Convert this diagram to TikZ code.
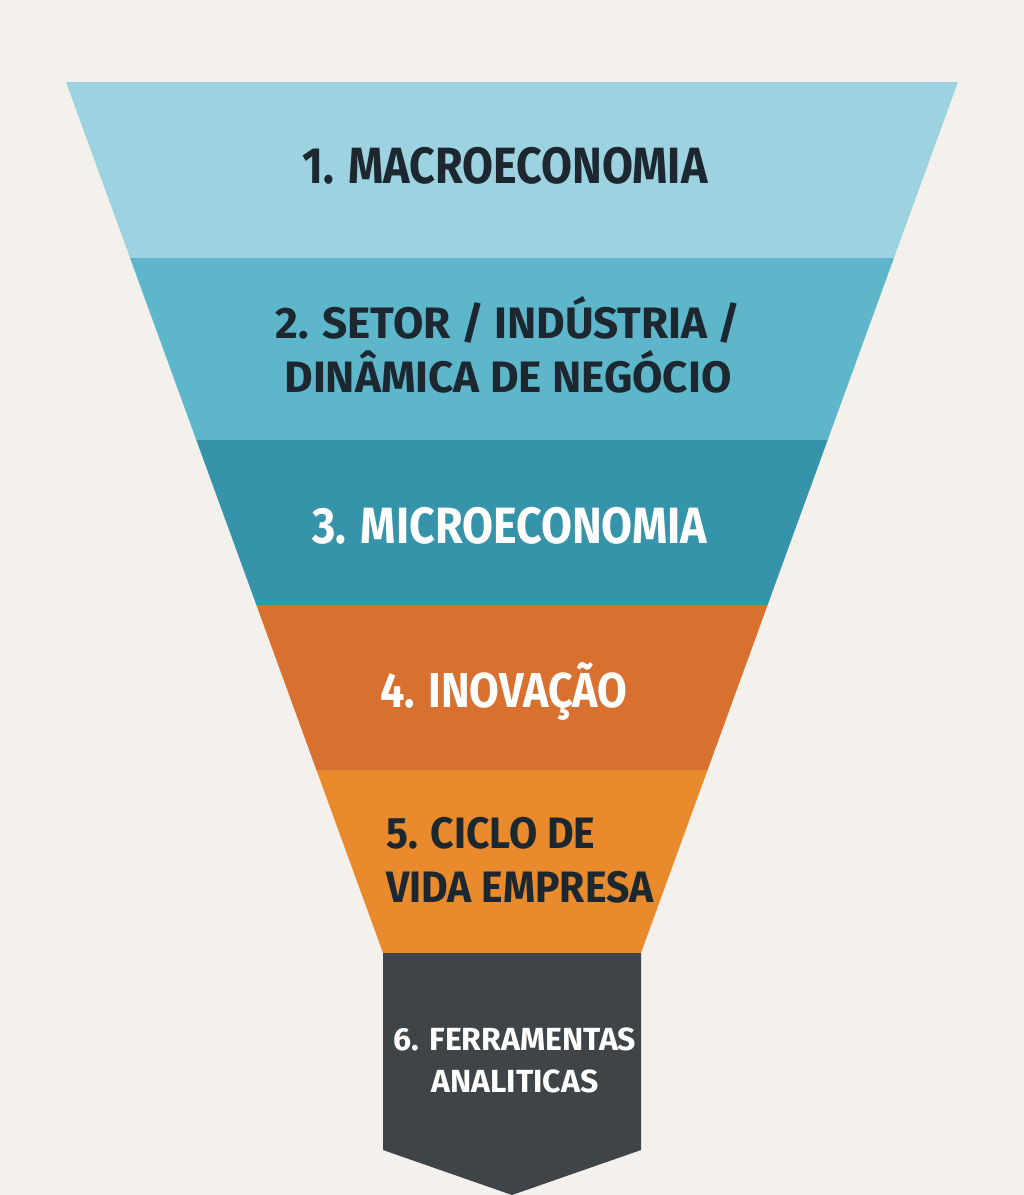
\documentclass[tikz,border=0pt]{standalone}
\usepackage{fontspec}
\setmainfont{Fira Sans}
\newfontfamily\narrowfont{Fira Sans}[FakeStretch=0.88]
\newfontfamily\midfont{Fira Sans}[FakeStretch=0.93]
\newfontfamily\plainfont{Fira Sans}[FakeStretch=1.0]
\definecolor{paper}{HTML}{F4F1EC}
\definecolor{macroblue}{HTML}{9DD3E0}
\definecolor{setorblue}{HTML}{5EB6CA}
\definecolor{microteal}{HTML}{3594A9}
\definecolor{inovorange}{HTML}{D87030}
\definecolor{cicloorange}{HTML}{E98B2D}
\definecolor{toolgrey}{HTML}{3E4447}
\definecolor{ink}{HTML}{1C2730}

\begin{document}
\begin{tikzpicture}[x=1pt, y=-1pt,
  lbl/.style={inner sep=0pt, align=center, anchor=base},
  big/.style={font=\narrowfont\bfseries\fontsize{51}{56}\selectfont},
  mid/.style={font=\plainfont\bfseries\fontsize{44}{54}\selectfont},
  cyc/.style={font=\midfont\bfseries\fontsize{44}{54}\selectfont},
  small/.style={font=\plainfont\bfseries\fontsize{32}{42}\selectfont}]

  \fill[paper] (0,0) rectangle (1024,1195);
  \useasboundingbox (0,0) rectangle (1024,1195);

  % funnel bands
  \foreach \ya/\yb/\col in {82/258/macroblue, 258/440/setorblue,
      440/605/microteal, 605/770/inovorange, 770/953/cicloorange}{
    \pgfmathsetmacro{\xa}{66+0.364*(\ya-82)}
    \pgfmathsetmacro{\xb}{66+0.364*(\yb-82)}
    \fill[\col] (\xa,\ya) -- (1024-\xa,\ya) -- (1024-\xb,\yb) -- (\xb,\yb) -- cycle;
  }

  % bottom box
  \fill[toolgrey] (383,953) -- (641,953) -- (641,1150) -- (512,1195) -- (383,1150) -- cycle;

  \node[lbl, big, text=ink] (macro) at (505,183) {1. MACROECONOMIA};
  \node[lbl, mid, text=ink] (setor) at (508,392) {2. SETOR / INDÚSTRIA /\\DINÂMICA DE NEGÓCIO};
  \node[lbl, big, text=white] (micro) at (510,543) {3. MICROECONOMIA};
  \node[lbl, text=white, font=\narrowfont\bfseries\fontsize{49}{54}\selectfont] (inov) at (504,707) {4. INOVAÇÃO};
  \node[lbl, cyc, text=ink, align=left, anchor=base west] (ciclo) at (386,902) {5. CICLO DE\\VIDA EMPRESA};
  \node[lbl, small, text=white] (tools) at (515,1092) {6. FERRAMENTAS\\ANALITICAS};

\end{tikzpicture}
\end{document}
